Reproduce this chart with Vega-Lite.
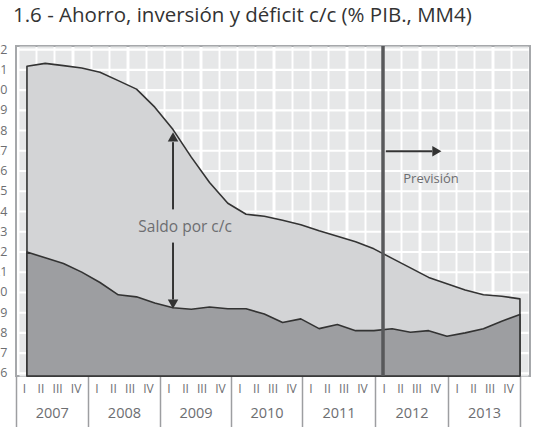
{
  "$schema": "https://vega.github.io/schema/vega-lite/v6.json",
  "autosize": {"type": "none"},
  "padding": {"left": 16, "top": 46, "right": 4, "bottom": 51},
  "width": 514,
  "height": 330,
  "background": "white",
  "title": {
    "text": "1.6 - Ahorro, inversión y déficit c/c (% PIB., MM4)",
    "anchor": "start",
    "frame": "group",
    "dx": -3,
    "offset": 17,
    "fontSize": 20.5,
    "font": "Open Sans",
    "fontWeight": "normal",
    "color": "#333333"
  },
  "config": {
    "view": {"fill": null, "stroke": "#a6a8ab", "strokeWidth": 2},
    "font": "Open Sans"
  },
  "datasets": {
    "series": [
      {"t": 0, "inversion": 31.15, "ahorro": 21.97},
      {"t": 1, "inversion": 31.29, "ahorro": 21.69},
      {"t": 2, "inversion": 31.18, "ahorro": 21.41},
      {"t": 3, "inversion": 31.06, "ahorro": 20.98},
      {"t": 4, "inversion": 30.85, "ahorro": 20.47},
      {"t": 5, "inversion": 30.44, "ahorro": 19.86},
      {"t": 6, "inversion": 30.02, "ahorro": 19.76},
      {"t": 7, "inversion": 29.13, "ahorro": 19.46},
      {"t": 8, "inversion": 28.02, "ahorro": 19.22},
      {"t": 9, "inversion": 26.66, "ahorro": 19.15},
      {"t": 10, "inversion": 25.41, "ahorro": 19.26},
      {"t": 11, "inversion": 24.38, "ahorro": 19.17},
      {"t": 12, "inversion": 23.84, "ahorro": 19.17},
      {"t": 13, "inversion": 23.74, "ahorro": 18.91},
      {"t": 14, "inversion": 23.54, "ahorro": 18.49},
      {"t": 15, "inversion": 23.32, "ahorro": 18.67},
      {"t": 16, "inversion": 23.02, "ahorro": 18.19},
      {"t": 17, "inversion": 22.75, "ahorro": 18.39},
      {"t": 18, "inversion": 22.48, "ahorro": 18.09},
      {"t": 19, "inversion": 22.13, "ahorro": 18.09},
      {"t": 20, "inversion": 21.66, "ahorro": 18.18},
      {"t": 21, "inversion": 21.19, "ahorro": 18.01},
      {"t": 22, "inversion": 20.72, "ahorro": 18.09},
      {"t": 23, "inversion": 20.41, "ahorro": 17.81},
      {"t": 24, "inversion": 20.1, "ahorro": 17.98},
      {"t": 25, "inversion": 19.86, "ahorro": 18.18},
      {"t": 26, "inversion": 19.79, "ahorro": 18.55},
      {"t": 27, "inversion": 19.66, "ahorro": 18.89}
    ],
    "forecast": [{"t": 19.5}],
    "arrows": [
      {"t": 8, "t2": 8, "v": 27.4, "v2": 24.08},
      {"t": 8, "t2": 8, "v": 22.44, "v2": 19.63},
      {"t": 19.65, "t2": 22.2, "v": 26.95, "v2": 26.95}
    ],
    "heads": [
      {"t": 8, "v": 27.66, "shape": "triangle-up"},
      {"t": 8, "v": 19.4, "shape": "triangle-down"},
      {"t": 22.45, "v": 26.95, "shape": "triangle-right"}
    ],
    "notes": [
      {"t": 8.66, "v": 23.21, "label": "Saldo por c/c", "size": 15.5},
      {"t": 22.13, "v": 25.57, "label": "Previsión", "size": 13}
    ]
  },
  "resolve": {"axis": {"x": "independent", "y": "independent"}},
  "layer": [
    {
      "data": {"name": "series"},
      "mark": {"type": "area", "fill": "#d3d4d6", "stroke": "#333333", "strokeWidth": 1.6, "strokeJoin": "round"},
      "encoding": {
        "x": {
          "field": "t", "type": "quantitative",
          "scale": {"domain": [-0.6, 27.55], "nice": false, "zero": false},
          "axis": {
            "orient": "bottom",
            "values": [0, 1, 2, 3, 4, 5, 6, 7, 8, 9, 10, 11, 12, 13, 14, 15, 16, 17, 18, 19, 20, 21, 22, 23, 24, 25, 26, 27],
            "grid": true, "gridColor": "#e6e7e8", "gridWidth": 16.06, "gridOpacity": 1, "gridCap": "butt",
            "gridDash": [18.045, 2.2], "gridDashOffset": 16.105,
            "labels": false, "ticks": false, "domain": false, "title": null
          }
        },
        "y": {
          "field": "inversion", "type": "quantitative", "stack": null,
          "scale": {"domain": [15.85, 32.15], "nice": false, "zero": false},
          "axis": {
            "orient": "left",
            "values": [16, 17, 18, 19, 20, 21, 22, 23, 24, 25, 26, 27, 28, 29, 30, 31, 32],
            "format": "d",
            "grid": false,
            "ticks": false, "domain": false, "title": null,
            "labelPadding": 9, "labelFontSize": 12.5, "labelColor": "#6d6e71", "labelFont": "Open Sans"
          }
        }
      }
    },
    {
      "data": {"name": "series"},
      "mark": {"type": "area", "fill": "#9d9ea1", "stroke": "#333333", "strokeWidth": 1.6, "strokeJoin": "round"},
      "encoding": {
        "x": {"field": "t", "type": "quantitative", "axis": null},
        "y": {"field": "ahorro", "type": "quantitative", "stack": null, "axis": null}
      }
    },
    {
      "data": {"name": "forecast"},
      "mark": {"type": "rule", "color": "#58595b", "strokeWidth": 3.5},
      "encoding": {
        "x": {
          "field": "t", "type": "quantitative",
          "axis": {
            "orient": "bottom",
            "values": [-0.6, 3.34, 7.29, 11.17, 15.06, 19.06, 23.04, 27.0],
            "labels": false, "domain": false, "grid": false, "title": null,
            "ticks": true, "tickSize": 51, "tickWidth": 1.5, "tickColor": "#9d9ea1"
          }
        }
      }
    },
    {
      "data": {"name": "arrows"},
      "mark": {"type": "rule", "color": "#333333", "strokeWidth": 2},
      "encoding": {
        "x": {
          "field": "t", "type": "quantitative",
          "axis": {
            "orient": "bottom",
            "values": [1.36, 5.31, 9.23, 13.12, 17.06, 21.06, 25.03],
            "labelExpr": "'' + (2007 + floor((datum.value + 0.63) / 3.943))",
            "grid": false, "ticks": false, "domain": false, "title": null,
            "labelPadding": 30, "labelFontSize": 14.5, "labelColor": "#6d6e71", "labelFont": "Open Sans",
            "labelOverlap": false, "labelBound": false, "labelFlush": false
          }
        },
        "x2": {"field": "t2"},
        "y": {"field": "v", "type": "quantitative", "axis": null},
        "y2": {"field": "v2"}
      }
    },
    {
      "data": {"name": "heads"},
      "mark": {"type": "point", "filled": true, "color": "#333333", "opacity": 1, "size": 110},
      "encoding": {
        "x": {
          "field": "t", "type": "quantitative",
          "axis": {
            "orient": "bottom",
            "values": [-0.16, 0.74, 1.65, 2.66, 3.81, 4.71, 5.62, 6.63, 7.75, 8.66, 9.56, 10.57, 11.64, 12.54, 13.45, 14.46, 15.53, 16.43, 17.34, 18.35, 19.53, 20.43, 21.33, 22.35, 23.53, 24.43, 25.33, 26.35],
            "labelExpr": "(datum.value + 0.63) % 3.943 < 0.9 ? 'I' : (datum.value + 0.63) % 3.943 < 1.8 ? 'II' : (datum.value + 0.63) % 3.943 < 2.8 ? 'III' : 'IV'",
            "grid": false, "ticks": false, "domain": false, "title": null,
            "labelPadding": 7, "labelFontSize": 12, "labelColor": "#6d6e71", "labelFont": "Open Sans",
            "labelOverlap": false, "labelBound": false, "labelFlush": false
          }
        },
        "y": {"field": "v", "type": "quantitative", "axis": null},
        "shape": {"field": "shape", "type": "nominal", "scale": null, "legend": null}
      }
    },
    {
      "data": {"name": "notes"},
      "mark": {"type": "text", "color": "#6d6e71", "font": "Open Sans", "align": "center", "baseline": "middle"},
      "encoding": {
        "x": {"field": "t", "type": "quantitative", "axis": null},
        "y": {"field": "v", "type": "quantitative", "axis": null},
        "text": {"field": "label"},
        "size": {"field": "size", "type": "quantitative", "scale": null, "legend": null}
      }
    }
  ]
}
